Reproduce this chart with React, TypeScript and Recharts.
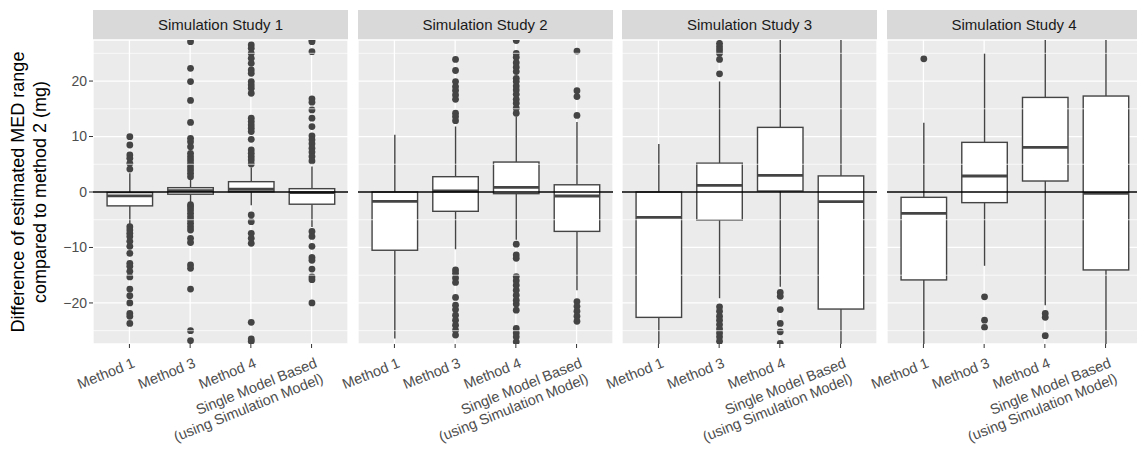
import React from 'react';
import { ComposedChart, Bar, XAxis, YAxis, CartesianGrid, ReferenceLine } from 'recharts';

const FONT = '"Liberation Sans", Arial, Helvetica, sans-serif';

const studies = ['Simulation Study 1', 'Simulation Study 2', 'Simulation Study 3', 'Simulation Study 4'];
const methods = ['Method 1', 'Method 3', 'Method 4', 'Single Model Based\n(using Simulation Model)'];
const majorTicks = [-20, -10, 0, 10, 20];
const minorTicks = [-25, -15, -5, 5, 15, 25];

// Simulation Study 1
const s1Low = [-5.9, -2.0, -2.4, -6.3];
const s1Q1 = [-2.5, -0.4, 0.05, -2.2];
const s1Med = [-0.7, 0.25, 0.5, -0.1];
const s1Q3 = [-0.1, 0.78, 1.86, 0.6];
const s1High = [3.4, 2.4, 4.4, 4.6];
const s1Out = [
  [9.97, 8.47, 6.67, 6.07, 5.17, 4.14, -6.25, -6.85, -7.45, -8.0, -8.9, -9.8, -11.05, -12.85, -13.4, -14.3, -15.3, -17.5, -18.7, -20.0, -21.9, -22.4, -23.7],
  [27.1, 22.3, 19.9, 16.5, 12.55, 9.67, 9.07, 8.17, 6.97, 6.37, 5.77, 5.17, 4.57, 3.97, 3.37, 2.77, -2.3, -2.7, -3.24, -3.84, -4.44, -5.05, -5.65, -6.25, -6.85, -8.35, -9.1, -13.15, -13.75, -17.5, -25.0, -26.8],
  [26.5, 25.9, 25.0, 24.1, 23.2, 22.0, 21.4, 19.9, 19.3, 18.7, 17.8, 13.3, 12.7, 12.1, 11.5, 10.9, 9.5, 7.57, 6.97, 6.37, 5.77, 5.05, -4.14, -5.35, -7.45, -8.35, -9.25, -23.5, -26.5, -26.9],
  [27.4, 27.1, 25.3, 16.8, 16.2, 14.8, 13.3, 11.8, 10.1, 9.4, 8.7, 7.9, 7.2, 6.4, 5.6, -7.1, -8.0, -9.8, -11.8, -12.3, -13.9, -15.3, -15.8, -20.0],
];

// Simulation Study 2
const s2Low = [-26.4, -10.3, -8.6, -17.7];
const s2Q1 = [-10.5, -3.48, -0.3, -7.1];
const s2Med = [-1.68, 0.18, 0.84, -0.72];
const s2Q3 = [0, 2.76, 5.4, 1.3];
const s2High = [10.3, 11.8, 13.6, 12.6];
const s2Out = [
  [],
  [23.9, 21.9, 19.9, 19.0, 18.3, 17.5, 16.7, 14.2, 13.6, 12.85, -14.05, -14.65, -15.5, -16.3, -19.0, -20.4, -21.2, -22.2, -23.1, -24.0, -24.9, -25.8],
  [27.3, 25.0, 24.3, 23.3, 22.5, 21.7, 20.5, 19.9, 19.1, 18.4, 17.6, 16.7, 16.0, 15.1, 14.2, -9.4, -11.35, -11.95, -15.25, -16.0, -16.8, -17.7, -18.6, -19.5, -20.2, -21.3, -24.6, -25.4, -26.1, -27.0],
  [25.4, 18.25, 17.2, 13.8, -19.75, -20.6, -21.5, -22.4, -23.3],
];

// Simulation Study 3
const s3Low = [-35, -19.15, -17.1, -35];
const s3Q1 = [-22.6, -5.05, 0.18, -21.1];
const s3Med = [-4.56, 1.2, 3.0, -1.75];
const s3Q3 = [0, 5.2, 11.65, 2.9];
const s3High = [8.65, 19.9, 35, 35];
const s3Out = [
  [],
  [26.8, 26.2, 25.6, 25.0, 23.9, 21.3, -20.7, -21.5, -22.4, -23.1, -23.9, -24.7, -25.4, -26.1, -26.9],
  [-18.1, -18.8, -21.2, -23.7, -25.2, -27.3],
  [],
];

// Simulation Study 4
const s4Low = [-35, -13.3, -20.4, -35];
const s4Q1 = [-15.85, -1.92, 1.98, -14.05];
const s4Med = [-3.85, 2.88, 8.05, -0.25];
const s4Q3 = [-0.96, 8.95, 17.05, 17.3];
const s4High = [12.5, 25.0, 35, 35];
const s4Out = [[24.0], [-18.9, -23.1, -24.4], [-21.9, -22.6, -25.9], []];

function buildRows(low, q1, med, q3, high, out) {
  return methods.map((m, i) => ({
    method: m,
    range: [low[i], high[i]],
    q1: q1[i],
    med: med[i],
    q3: q3[i],
    out: out[i],
  }));
}

const panels = [
  buildRows(s1Low, s1Q1, s1Med, s1Q3, s1High, s1Out),
  buildRows(s2Low, s2Q1, s2Med, s2Q3, s2High, s2Out),
  buildRows(s3Low, s3Q1, s3Med, s3Q3, s3High, s3Out),
  buildRows(s4Low, s4Q1, s4Med, s4Q3, s4High, s4Out),
];

const PANEL_LEFT = 93;
const PANEL_PITCH = 264.5;
const PANEL_W = 255;
const LINE = '#444';

function BoxShape(props: any) {
  const { x, y, width, height, payload } = props;
  if (!payload || width == null) return null;
  const [lo, hi] = payload.range;
  const top = Math.min(y, y + height);
  const k = Math.abs(height) / (hi - lo);
  const py = (v: number) => top + (hi - v) * k;
  const cx = x + width / 2;
  return (
    <g>
      <line x1={cx} x2={cx} y1={py(hi)} y2={py(payload.q3)} stroke={LINE} strokeWidth={1.4} />
      <line x1={cx} x2={cx} y1={py(payload.q1)} y2={py(lo)} stroke={LINE} strokeWidth={1.4} />
      <rect x={x} y={py(payload.q3)} width={width} height={py(payload.q1) - py(payload.q3)} fill="#fff" stroke={LINE} strokeWidth={1.4} />
      <line x1={x} x2={x + width} y1={py(payload.med)} y2={py(payload.med)} stroke={LINE} strokeWidth={2.8} />
      {payload.out.map((v: number, i: number) => (
        <circle key={i} cx={cx} cy={py(v)} r={3.4} fill={LINE} />
      ))}
    </g>
  );
}

function XTick(props: any) {
  const { x, y, payload } = props;
  const lines = String(payload.value).split('\n');
  return (
    <g transform={`translate(${x + 2.5},${y + 7}) rotate(-22)`}>
      <text textAnchor="end" fontSize={14.5} fill="#4d4d4d" fontFamily={FONT}>
        {lines.map((l, i) => (
          <tspan key={i} x={0} dy={i === 0 ? '0.72em' : '1.15em'}>{l}</tspan>
        ))}
      </text>
    </g>
  );
}

const fmtY = (v: number) => (v < 0 ? '\u2212' + Math.abs(v) : String(v));

function Panel({ index }: { index: number }) {
  const left = PANEL_LEFT + index * PANEL_PITCH;
  const rows = panels[index];
  return (
    <>
      <div
        style={{
          position: 'absolute',
          left,
          top: 10,
          width: PANEL_W,
          height: 30,
          background: '#d9d9d9',
          color: '#1a1a1a',
          fontFamily: FONT,
          fontSize: 15,
          lineHeight: '30px',
          textAlign: 'center',
        }}
      >
        {studies[index]}
      </div>
      <div style={{ position: 'absolute', left: left - 93, top: 0 }}>
        <ComposedChart
          width={93 + PANEL_W}
          height={451}
          data={rows}
          margin={{ top: 40, right: 0, bottom: 0, left: index === 0 ? 0 : 93 }}
        >
          <CartesianGrid fill="#ebebeb" stroke="#ffffff" strokeWidth={1.3} />
          {minorTicks.map((v) => (
            <ReferenceLine key={v} y={v} stroke="#ffffff" strokeWidth={0.7} />
          ))}
          <XAxis
            dataKey="method"
            height={107}
            interval={0}
            tickSize={4}
            tickMargin={2}
            axisLine={false}
            tickLine={{ stroke: '#333' }}
            padding={{ left: 6.07, right: 6.07 }}
            tick={<XTick />}
          />
          <YAxis
            hide={index !== 0}
            width={93}
            type="number"
            domain={[-27.4, 27.4]}
            allowDataOverflow
            ticks={majorTicks}
            interval={0}
            tickFormatter={fmtY}
            tickSize={4}
            tickMargin={2}
            axisLine={false}
            tickLine={{ stroke: '#333' }}
            tick={{ fill: '#4d4d4d', fontSize: 14, fontFamily: FONT }}
          />
          <Bar dataKey="range" barSize={45.5} shape={<BoxShape />} isAnimationActive={false} />
          <ReferenceLine y={0} stroke="#000" strokeWidth={1.3} />
        </ComposedChart>
      </div>
    </>
  );
}

export default function App() {
  return (
    <div
      style={{
        position: 'absolute',
        left: 0,
        top: 0,
        width: 1137,
        height: 451,
        overflow: 'hidden',
        background: '#fff',
      }}
    >
      {[0, 1, 2, 3].map((i) => (
        <Panel key={i} index={i} />
      ))}
      <svg style={{ position: 'absolute', left: 0, top: 0 }} width={93} height={451}>
        <text transform="translate(23.5,192) rotate(-90)" textAnchor="middle" fontSize={18} fontFamily={FONT} fill="#000">
          <tspan x={0} dy={0}>Difference of estimated MED range</tspan>
          <tspan x={0} dy={22}>compared to method 2 (mg)</tspan>
        </text>
      </svg>
    </div>
  );
}
